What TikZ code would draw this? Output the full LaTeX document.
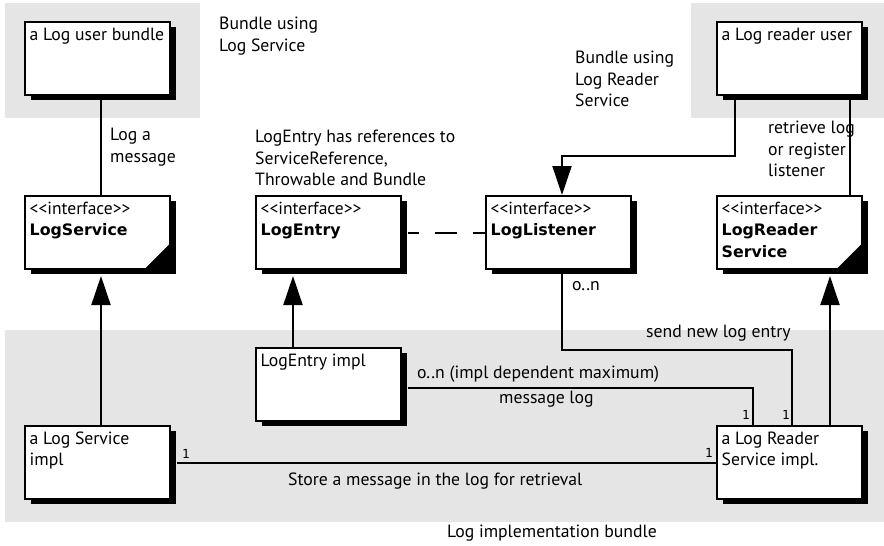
\documentclass[tikz,border=0pt]{standalone}
\usepackage{fontspec}
\usepackage{tikz}
\usetikzlibrary{calc,arrows.meta,shadows}
\newfontfamily\diafont{PT Sans}
\newfontfamily\ifacefont{DejaVu Sans}
\newfontfamily\multfont{DejaVu Sans Mono}
\newcommand{\diatext}{\diafont\fontsize{17.7}{21.5}\selectfont}
\newcommand{\stereo}{\diafont\fontsize{17.5}{21.5}\selectfont}
\newcommand{\ifname}{\ifacefont\bfseries\fontsize{15.8}{21.5}\selectfont}
\newcommand{\multsz}{\multfont\fontsize{12.5}{14}\selectfont}
\definecolor{bundlegrey}{HTML}{E5E5E5}
\tikzset{
  bundle/.style={fill=bundlegrey, draw=none},
  classbox/.style={draw=black, fill=white, line width=2pt, minimum width=145pt,
    minimum height=73pt, inner sep=0pt,
    drop shadow={shadow xshift=6pt, shadow yshift=-5pt, fill=black, opacity=1}},
  boxtext/.style={anchor=north west, inner sep=0pt, align=left, font=\diatext,
    xshift=6pt, yshift=-6.5pt},
  note/.style={anchor=north west, inner sep=0pt, align=left, font=\diatext},
  noteb/.style={anchor=base west, inner sep=0pt, font=\diatext},
  mult/.style={anchor=base west, inner sep=0pt, font=\multsz},
  wire/.style={draw=black, line width=2pt},
  realize/.style={wire, -{Triangle[length=29pt, width=19pt]}},
}
\newcommand{\ifcorner}[1]{\fill (#1.south east) -- ++(-27,0) -- ++(27,-27) -- cycle;}

\begin{document}
\begin{tikzpicture}[x=1pt, y=-1pt]
  \useasboundingbox (0,0) rectangle (884,546);
  % bundles
  \fill[bundle] (5,3) rectangle (200,118);
  \fill[bundle] (691,3) rectangle (884,118);
  \fill[bundle] (5,330) rectangle (884,522);

  % classes
  \node[classbox, label={[boxtext]north west:a Log user bundle}] (user) at (97,58.5) {};
  \node[classbox, label={[boxtext]north west:a Log reader user}] (reader) at (789,58.5) {};
  \node[classbox, label={[boxtext]north west:\stereo <<interface>>\\\ifname LogService}] (lsvc) at (97,232.5) {};
  \node[classbox, label={[boxtext]north west:\stereo <<interface>>\\\ifname LogEntry}] (lentry) at (328,232.5) {};
  \node[classbox, label={[boxtext]north west:\stereo <<interface>>\\\ifname LogListener}] (llist) at (558,232.5) {};
  \node[classbox, label={[boxtext]north west:\stereo <<interface>>\\\ifname LogReader\\\ifname Service}] (lrsvc) at (789,232.5) {};
  \node[classbox, label={[boxtext]north west:LogEntry impl}] (eimpl) at (328,384.5) {};
  \node[classbox, label={[boxtext]north west:a Log Service\\impl}] (simpl) at (97,462.5) {};
  \node[classbox, label={[boxtext]north west:a Log Reader\\Service impl.}] (rimpl) at (789,462.5) {};
  \ifcorner{lsvc}
  \ifcorner{lrsvc}

  % connectors
  \draw[wire] ([xshift=4pt]user.south) -- ([xshift=4pt]lsvc.north);
  \draw[realize] ([xshift=4pt]simpl.north) -- ([xshift=4pt,yshift=-6pt]lsvc.south);
  \draw[realize] ([xshift=-35pt]eimpl.north) -- ([xshift=-35pt,yshift=-6pt]lentry.south);
  \draw[wire, dash pattern=on 22pt off 16pt, dash phase=11pt] ([xshift=6pt]lentry.east) -- (llist.west);
  \draw[realize] ([xshift=-54pt]reader.south) -- ++(0,60) -| ([xshift=4pt]llist.north);
  \draw[wire] ([xshift=61pt]reader.south) -- ([xshift=61pt]lrsvc.north);
  \draw[realize] ([xshift=41pt]rimpl.north) -- ([xshift=41pt,yshift=-6pt]lrsvc.south);
  \draw[wire] ([xshift=4pt]llist.south) -- ++(0,79.5) -| ([xshift=3pt]rimpl.north);
  \draw[wire] ([xshift=6pt,yshift=-3pt]eimpl.east) -| ([xshift=-36pt]rimpl.north);
  \draw[wire] ([xshift=6pt]simpl.east) -- (rimpl.west);

  % notes
  \node[note] (nsvc) at (219,17) {Bundle using\\Log Service};
  \node[note] (nrdr) at (575,51) {Bundle using\\Log Reader\\Service};
  \node[note] (nentry) at (255,130) {LogEntry has references to\\ServiceReference,\\Throwable and Bundle};
  \node[note] (nlog) at (110,128) {Log a\\message};
  \node[note] (nretr) at (768,121) {retrieve log\\or register\\listener};
  \node[noteb] (nlstn) at (572,290) {o..n};
  \node[noteb] (nsend) at (646,337) {send new log entry};
  \node[noteb] (nmax) at (417,378) {o..n (impl dependent maximum)};
  \node[noteb] (nmsg) at (499,403) {message log};
  \node[noteb] (nstore) at (288,485) {Store a message in the log for retrieval};
  \node[noteb] (nimpl) at (447,537) {Log implementation bundle};
  \node[mult] (m1) at (742,419) {1};
  \node[mult] (m2) at (782,419) {1};
  \node[mult] (m3) at (705,457) {1};
  \node[mult] (m4) at (182,458) {1};
\end{tikzpicture}
\end{document}
